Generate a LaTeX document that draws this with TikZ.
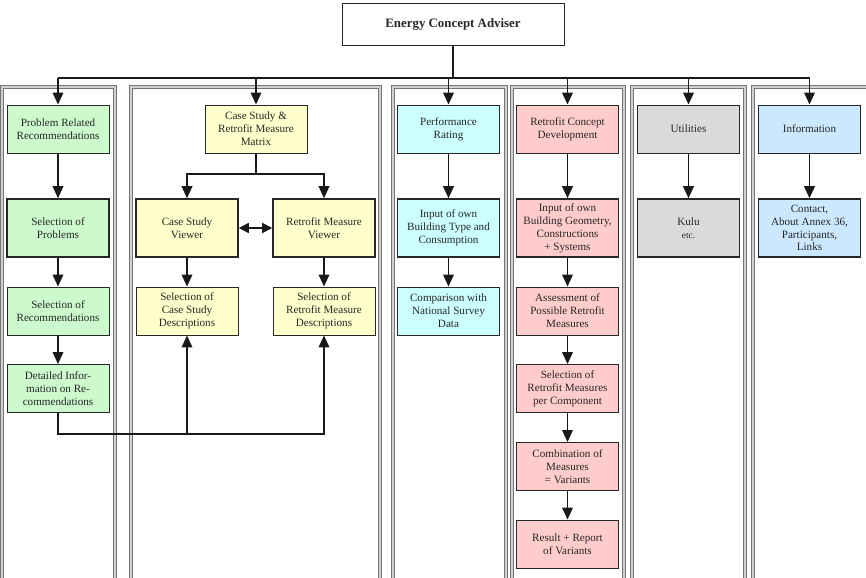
\documentclass[tikz,border=0pt]{standalone}
\usepackage{fontspec}
\setmainfont{Liberation Serif}
\usetikzlibrary{arrows.meta}
\definecolor{boxGreen}{RGB}{204,250,204}
\definecolor{boxYellow}{RGB}{255,255,204}
\definecolor{boxCyan}{RGB}{204,255,255}
\definecolor{boxPink}{RGB}{255,204,204}
\definecolor{boxGray}{RGB}{218,218,218}
\definecolor{boxBlue}{RGB}{204,232,255}

\begin{document}
\begin{tikzpicture}
[x=0.3mm,y=-0.3mm,
 nodeDecorate/.style={shape=rectangle,draw=black!85,line width=0.8pt,inner sep=0pt,
   minimum width=30.6mm,align=center,text=black!85,font=\fontsize{9.5}{11}\selectfont},
 panelDecorate/.style={draw=black!55,double=black!18,line width=0.7pt,double distance=1.2pt}]
\useasboundingbox (0,0) rectangle (866,578);
%% panels
\foreach \xa/\xb in {2/115, 131/380, 393/506, 512/624, 632/745, 753/872}
{
  \draw[panelDecorate] (\xa,582) -- (\xa,87) -- (\xb,87) -- (\xb,582);
}
%% title
\node (title) at (453,24) [nodeDecorate,minimum width=66.6mm,minimum height=12.6mm,
  font=\fontsize{11}{13}\selectfont\bfseries] {Energy Concept Adviser};
%% boxes
\foreach \nodename/\x/\y/\col/\txt in {
  pr/58/129/boxGreen/{Problem Related\\Recommendations},
  sr/58/311/boxGreen/{Selection of\\Recommendations},
  di/58/388.5/boxGreen/{Detailed Infor-\\mation on Re-\\commendations},
  mat/256/129/boxYellow/{Case Study \&\\Retrofit Measure\\Matrix},
  scd/187/311/boxYellow/{Selection of\\Case Study\\Descriptions},
  srd/324/311/boxYellow/{Selection of\\Retrofit Measure\\Descriptions},
  perf/448.5/129/boxCyan/{Performance\\Rating},
  comp/448.5/311/boxCyan/{Comparison with\\National Survey\\Data},
  rcd/567.5/129/boxPink/{Retrofit Concept\\Development},
  ass/567.5/311/boxPink/{Assessment of\\Possible Retrofit\\Measures},
  selm/567.5/388.5/boxPink/{Selection of\\Retrofit Measures\\per Component},
  comb/567.5/466.5/boxPink/{Combination of\\Measures\\= Variants},
  res/567.5/544/boxPink/{Result + Report\\of Variants},
  util/688.5/129/boxGray/{Utilities},
  info/809.5/129/boxBlue/{Information}}
{
  \node (\nodename) at (\x,\y) [nodeDecorate,fill=\col,minimum height=14.4mm] {\txt};
}
%% second row, heavier frames
\foreach \nodename/\x/\y/\col/\txt in {
  sp/58/228/boxGreen/{Selection of\\Problems},
  csv/187/228/boxYellow/{Case Study\\Viewer},
  rmv/324/228/boxYellow/{Retrofit Measure\\Viewer},
  inpb/448.5/228/boxCyan/{Input of own\\Building Type and\\Consumption},
  inpg/567.5/228/boxPink/{Input of own\\Building Geometry,\\Constructions\\+ Systems},
  kulu/688.5/228/boxGray/{Kulu\\{\fontsize{8}{10}\selectfont etc.}},
  cont/809.5/228/boxBlue/{Contact,\\About Annex 36,\\Participants,\\Links}}
{
  \node (\nodename) at (\x,\y) [nodeDecorate,fill=\col,minimum height=17.4mm,line width=1.3pt] {\txt};
}
%% edges
\tikzstyle{LineStyle}=[line width=1.3pt,black!90]
\tikzstyle{EdgeStyle}=[LineStyle,-{Triangle[length=3.6mm,width=3.2mm]}]
\coordinate (bus) at (453,78);
\draw[LineStyle] (title) -- (bus);
\draw[LineStyle] (bus -| pr) -- (bus -| info);
\foreach \endnode in {pr,mat,perf,rcd,util,info}
{
  \draw[EdgeStyle] (bus -| \endnode) -- (\endnode);
}
\foreach \startnode/\endnode in {
  pr/sp, sp/sr, sr/di, csv/scd, rmv/srd,
  perf/inpb, inpb/comp, rcd/inpg, inpg/ass, ass/selm, selm/comb, comb/res,
  util/kulu, info/cont}
{
  \draw[EdgeStyle] (\startnode) -- (\endnode);
}
\coordinate (matJoin) at (256,174);
\draw[LineStyle] (mat) -- (matJoin);
\draw[EdgeStyle] (matJoin) -| (csv);
\draw[EdgeStyle] (matJoin) -| (rmv);
\draw[LineStyle,{Triangle[length=3mm,width=3mm]}-{Triangle[length=3mm,width=3mm]}] (csv) -- (rmv);
\coordinate (detJoin) at (58,434);
\draw[EdgeStyle] (di) |- (srd.south |- detJoin) -- (srd);
\draw[EdgeStyle] (scd.south |- detJoin) -- (scd);
\end{tikzpicture}
\end{document}
